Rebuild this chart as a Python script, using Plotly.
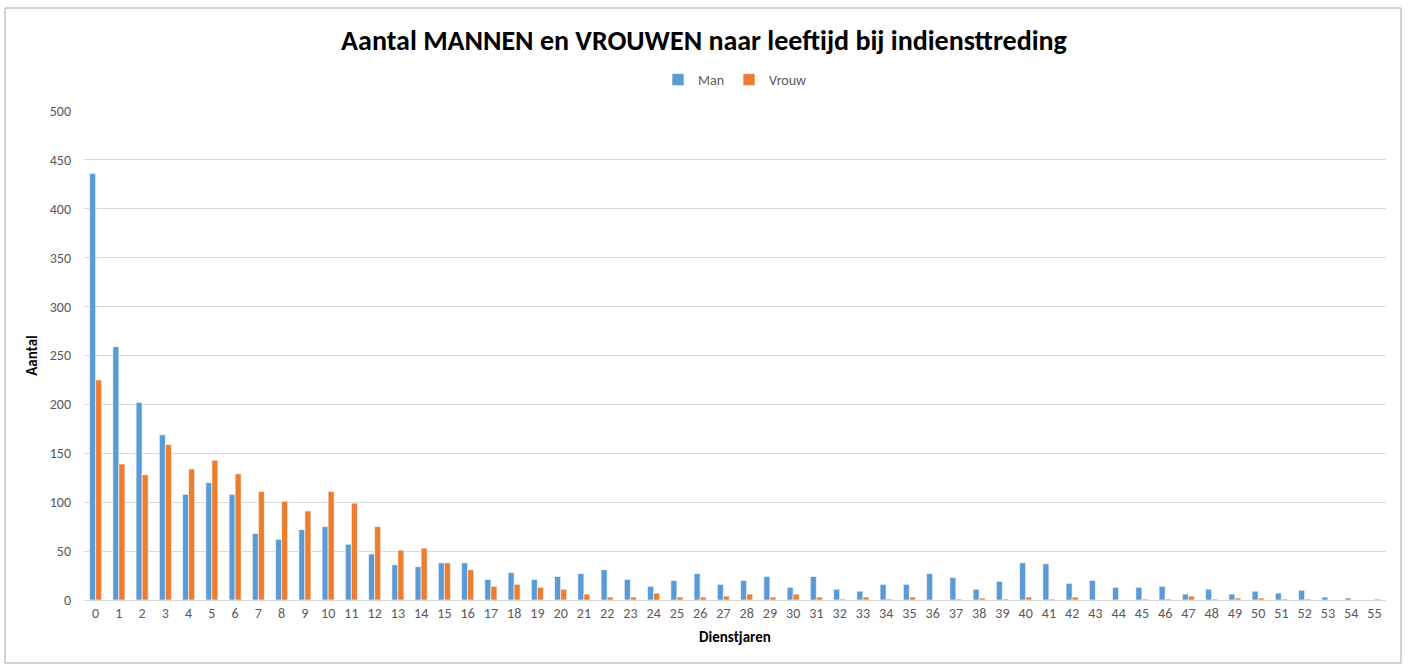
import plotly.graph_objects as go

jaren = list(range(0, 56))
man = [436, 259, 202, 169, 108, 120, 108, 68, 62, 72,
       75, 57, 47, 36, 34, 38, 38, 21, 28, 21,
       24, 27, 31, 21, 14, 20, 27, 16, 20, 24,
       13, 24, 11, 9, 16, 16, 27, 23, 11, 19,
       38, 37, 17, 20, 13, 13, 14, 6, 11, 6,
       9, 7, 10, 3, 2, 0]
vrouw = [225, 139, 128, 159, 134, 143, 129, 111, 101, 91,
         111, 99, 75, 51, 53, 38, 31, 14, 16, 13,
         11, 6, 3, 3, 7, 3, 3, 4, 6, 3,
         6, 3, 1, 3, 1, 3, 0, 1, 2, 1,
         3, 1, 3, 0, 0, 1, 1, 4, 1, 2,
         2, 1, 1, 0, 0, 1]
y_ticks = [0, 50, 100, 150, 200, 250, 300, 350, 400, 450, 500]

font_fam = "Carlito, Calibri, Lato, sans-serif"
grey = "#595959"

fig = go.Figure()
fig.add_trace(go.Bar(x=[str(j) for j in jaren], y=man, name="Man",
                     marker=dict(color="#5B9BD5", line=dict(color="white", width=0.6))))
fig.add_trace(go.Bar(x=[str(j) for j in jaren], y=vrouw, name="Vrouw",
                     marker=dict(color="#ED7D31", line=dict(color="white", width=0.6))))

L, R, T, B = 84, 22, 111, 64
W, H = 1408, 664
pw, ph = W - L - R, H - T - B

def px_to_paper_x(px):
    return (px - L) / pw

def px_to_paper_y(py):
    return (H - B - py) / ph

fig.update_layout(
    width=W, height=H,
    margin=dict(l=L, r=R, t=T, b=B),
    paper_bgcolor="white", plot_bgcolor="white",
    barmode="group", bargap=0.48, bargroupgap=0.0,
    font=dict(family=font_fam, color=grey, size=14),
    title=dict(text="<b>Aantal MANNEN en VROUWEN naar leeftijd bij indiensttreding</b>",
               x=0.5, xanchor="center", y=1 - 40 / H, yanchor="middle",
               font=dict(size=28, color="black", family=font_fam)),
    legend=dict(orientation="h", x=0.5, xanchor="center", y=px_to_paper_y(80), yanchor="middle",
                font=dict(size=14, color=grey), itemwidth=30, traceorder="normal"),
    xaxis=dict(title=dict(text="<b>Dienstjaren</b>", font=dict(size=15, color="black"), standoff=10),
               showgrid=False, showline=True, linecolor="#D9D9D9", linewidth=1,
               ticks="", tickfont=dict(size=14, color=grey), tickangle=0),
    yaxis=dict(title=dict(text="<b>Aantal</b>", font=dict(size=15, color="black"), standoff=8),
               range=[0, 500], tickvals=y_ticks, showgrid=True, gridcolor="#D9D9D9",
               gridwidth=1, zeroline=False, ticks="", tickfont=dict(size=14, color=grey),
               ticklabelstandoff=12),
    shapes=[dict(type="rect", xref="paper", yref="paper",
                 x0=px_to_paper_x(5), x1=px_to_paper_x(1401),
                 y0=px_to_paper_y(663), y1=px_to_paper_y(8),
                 line=dict(color="#A6A6A6", width=1), fillcolor="rgba(0,0,0,0)", layer="below")],
)

fig.write_html("out.html", config={"displayModeBar": False},
               post_script="document.body.style.margin='0';document.body.style.padding='0';")
